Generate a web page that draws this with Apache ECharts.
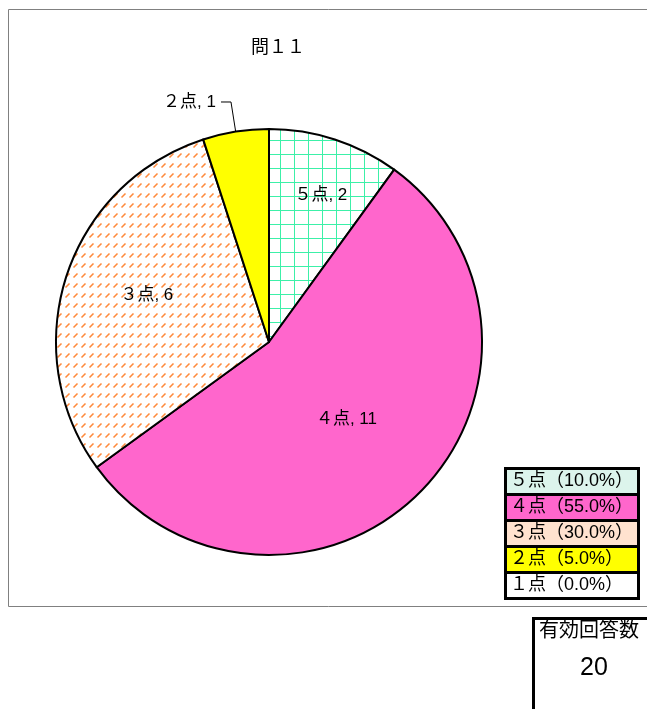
<!DOCTYPE html>
<html>
<head>
<meta charset="utf-8">
<script src="https://cdn.jsdelivr.net/npm/echarts@6/dist/echarts.min.js"></script>
<style>
  html, body { margin: 0; padding: 0; background: #fff; }
  #chart { width: 647px; height: 709px; }
</style>
</head>
<body>
<div id="chart"></div>
<script>
// data
var titleText = '問１１';
var categories = ['５点', '４点', '３点', '２点', '１点'];
var counts = [2, 11, 6, 1, 0];
var totalLabel = '有効回答数';

var FONT = '"Liberation Sans", "Noto Sans CJK JP", sans-serif';

// fill patterns like the excel ones
function gridPattern() {
    var c = document.createElement('canvas');
    c.width = 14; c.height = 14;
    var ctx = c.getContext('2d');
    ctx.fillStyle = '#fff';
    ctx.fillRect(0, 0, 14, 14);
    ctx.strokeStyle = '#3cf0a8';
    ctx.lineWidth = 1;
    ctx.beginPath();
    ctx.moveTo(0.5, 0); ctx.lineTo(0.5, 14);
    ctx.moveTo(0, 0.5); ctx.lineTo(14, 0.5);
    ctx.stroke();
    return { image: c, repeat: 'repeat' };
}
function dashPattern() {
    var c = document.createElement('canvas');
    c.width = 8; c.height = 10;
    var ctx = c.getContext('2d');
    ctx.fillStyle = '#fff';
    ctx.fillRect(0, 0, 8, 10);
    ctx.strokeStyle = '#ff8a3c';
    ctx.lineWidth = 1.6;
    ctx.beginPath();
    ctx.moveTo(1.5, 7.5); ctx.lineTo(5.5, 3.5);
    ctx.stroke();
    return { image: c, repeat: 'repeat' };
}

var fills = [gridPattern(), '#ff66cc', dashPattern(), '#ffff00', '#ffffff'];
var legendBg = ['#dcf4ec', '#ff66cc', '#ffe2cf', '#ffff00', '#ffffff'];
// small nudges of the inside labels
var labelShift = [[18, -43], [0, 0], [-18, -13], [0, 0], [0, 0]];

var total = counts.reduce(function (a, b) { return a + b; }, 0);

var pieData = categories.map(function (name, i) {
    var item = { name: name, value: counts[i], itemStyle: { color: fills[i] } };
    if (i === 3) {
        item.label = { position: 'outside' };
        item.labelLine = { show: true, length: 30, length2: 10, lineStyle: { color: '#000', width: 1 } };
    }
    if (counts[i] === 0) item.label = { show: false };
    return item;
});

var rich = {};
categories.forEach(function (name, i) {
    rich['s' + i] = {
        backgroundColor: legendBg[i],
        borderColor: '#000',
        borderWidth: 3,
        width: 124,
        height: 23,
        padding: [0, 3],
        fontSize: 18,
        fontFamily: FONT,
        color: '#000'
    };
});

var chart = echarts.init(document.getElementById('chart'));
chart.setOption({
    animation: false,
    title: {
        text: titleText,
        left: 246,
        top: 34,
        textStyle: { fontSize: 18, fontWeight: 'normal', color: '#000', fontFamily: FONT }
    },
    legend: {
        orient: 'vertical',
        left: 501,
        top: 467,
        itemGap: -3,
        itemWidth: 0,
        itemHeight: 0,
        padding: 0,
        selectedMode: false,
        data: categories,
        formatter: function (name) {
            var i = categories.indexOf(name);
            var pct = (counts[i] / total * 100).toFixed(1);
            return '{s' + i + '|' + name + '（' + pct + '%）}';
        },
        textStyle: { rich: rich }
    },
    graphic: [
        {
            type: 'rect',
            shape: { x: 8.5, y: 9.5, width: 700, height: 597 },
            style: { fill: null, stroke: '#808080', lineWidth: 1 },
            z: -1
        },
        {
            type: 'rect',
            shape: { x: 533.5, y: 618.5, width: 200, height: 200 },
            style: { fill: '#fff', stroke: '#000', lineWidth: 3 }
        },
        {
            type: 'text',
            x: 539, y: 621,
            style: { text: totalLabel, fontSize: 20, fontFamily: FONT, fill: '#000' }
        },
        {
            type: 'text',
            x: 594, y: 668,
            style: { text: String(total), fontSize: 25, fontFamily: FONT, fill: '#000', align: 'center', verticalAlign: 'middle' }
        }
    ],
    series: [{
        type: 'pie',
        center: [269, 342],
        radius: 213,
        startAngle: 90,
        clockwise: true,
        avoidLabelOverlap: false,
        silent: true,
        data: pieData,
        itemStyle: { borderColor: '#000', borderWidth: 2 },
        label: {
            position: 'inside',
            formatter: '{b}, {c}',
            fontSize: 17,
            fontFamily: FONT,
            color: '#000'
        },
        labelLayout: function (p) {
            var s = labelShift[p.dataIndex];
            return { dx: s[0], dy: s[1] };
        },
        emphasis: { disabled: true }
    }]
});
</script>
</body>
</html>
